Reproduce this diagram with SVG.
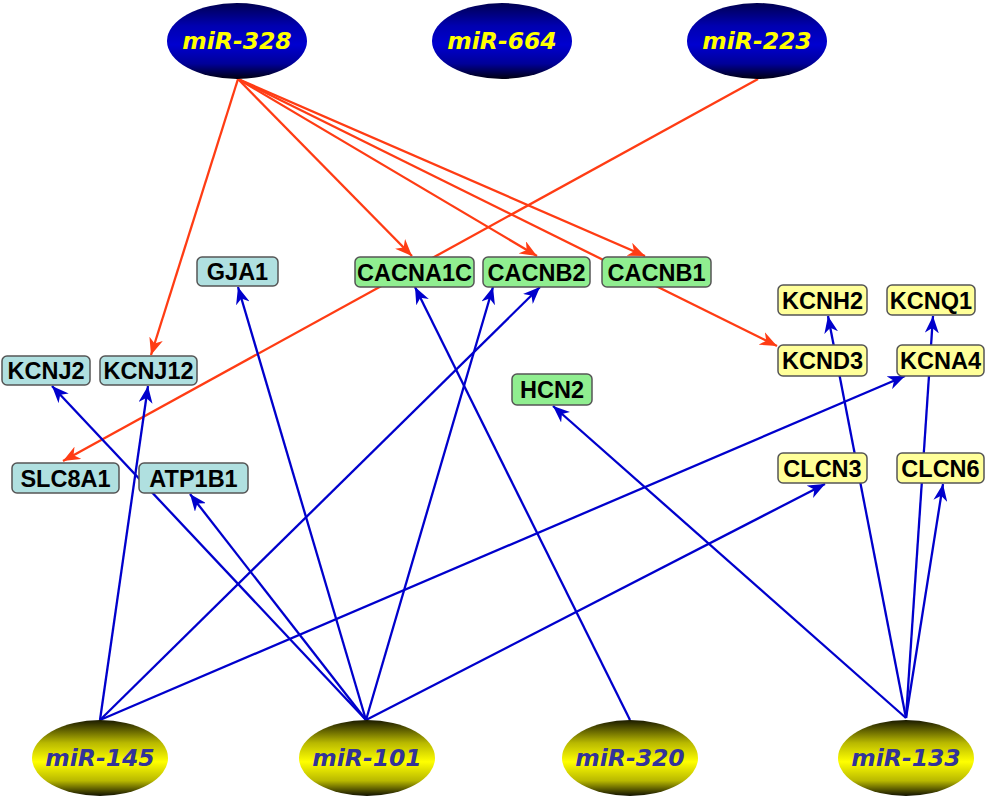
<svg xmlns="http://www.w3.org/2000/svg" width="986" height="798" viewBox="0 0 986 798">
<defs>
<linearGradient id="gBlue" x1="0" y1="0" x2="0" y2="1">
<stop offset="0" stop-color="#000050"/>
<stop offset="0.3" stop-color="#0000b0"/>
<stop offset="0.55" stop-color="#0000d0"/>
<stop offset="0.8" stop-color="#000098"/>
<stop offset="1" stop-color="#000010"/>
</linearGradient>
<linearGradient id="gYel" x1="0" y1="0" x2="0" y2="1">
<stop offset="0" stop-color="#1a1a00"/>
<stop offset="0.3" stop-color="#b8b800"/>
<stop offset="0.55" stop-color="#ffff00"/>
<stop offset="0.8" stop-color="#b8b800"/>
<stop offset="1" stop-color="#101000"/>
</linearGradient>
<marker id="aR" markerUnits="userSpaceOnUse" markerWidth="18" markerHeight="14" refX="17" refY="7" orient="auto">
<path d="M0,0 L17,7 L0,14 L5,7 z" fill="#ff3c14"/>
</marker>
<marker id="aB" markerUnits="userSpaceOnUse" markerWidth="18" markerHeight="14" refX="17" refY="7" orient="auto">
<path d="M0,0 L17,7 L0,14 L5,7 z" fill="#0000cc"/>
</marker>
<style>
.r{stroke:#ff3c14;stroke-width:2.3;fill:none;marker-end:url(#aR)}
.b{stroke:#0000cc;stroke-width:2.3;fill:none;marker-end:url(#aB)}
.box{stroke:#555;stroke-width:1.5}
.bl{fill:#b0e0e0}
.gr{fill:#90ee90}
.ye{fill:#ffff99}
.bt{font-family:"Liberation Sans",Arial,sans-serif;font-weight:bold;font-size:23.5px;fill:#000;text-anchor:middle}
.et{font-family:"DejaVu Sans",Verdana,sans-serif;font-weight:bold;font-style:italic;font-size:23.5px;text-anchor:middle}
.top{fill:url(#gBlue)}
.bot{fill:url(#gYel)}
</style>
</defs>
<g id="connectors">
<line class="r" x1="238" y1="79" x2="151" y2="355"/>
<line class="r" x1="238" y1="79" x2="412" y2="256"/>
<line class="r" x1="238" y1="79" x2="537" y2="256"/>
<line class="r" x1="238" y1="79" x2="645" y2="256"/>
<line class="r" x1="238" y1="79" x2="777" y2="346"/>
<line class="r" x1="758" y1="79" x2="63" y2="461"/>
<line class="b" x1="100" y1="720" x2="148" y2="386"/>
<line class="b" x1="100" y1="720" x2="540" y2="287"/>
<line class="b" x1="100" y1="720" x2="905" y2="376"/>
<line class="b" x1="366" y1="720" x2="52" y2="386"/>
<line class="b" x1="366" y1="720" x2="190" y2="494"/>
<line class="b" x1="366" y1="720" x2="238" y2="287"/>
<line class="b" x1="366" y1="720" x2="493" y2="287"/>
<line class="b" x1="366" y1="720" x2="825" y2="484"/>
<line class="b" x1="630" y1="720" x2="415" y2="287"/>
<line class="b" x1="906" y1="718" x2="553" y2="406"/>
<line class="b" x1="906" y1="718" x2="828" y2="316"/>
<line class="b" x1="906" y1="718" x2="933" y2="316"/>
<line class="b" x1="906" y1="718" x2="943" y2="484"/>
</g>
<g id="GJA1"><rect class="box bl" x="197" y="257" width="81" height="29" rx="5"/><text class="bt" x="237.5" y="280">GJA1</text></g>
<g id="CACNA1C"><rect class="box gr" x="355" y="257" width="119" height="30" rx="5"/><text class="bt" x="414.5" y="280.5">CACNA1C</text></g>
<g id="CACNB2"><rect class="box gr" x="483" y="257" width="107" height="30" rx="5"/><text class="bt" x="536.5" y="280.5">CACNB2</text></g>
<g id="CACNB1"><rect class="box gr" x="602" y="257" width="109" height="30" rx="5"/><text class="bt" x="656.5" y="280.5">CACNB1</text></g>
<g id="KCNJ2"><rect class="box bl" x="2" y="356" width="88" height="29" rx="5"/><text class="bt" x="46" y="379">KCNJ2</text></g>
<g id="KCNJ12"><rect class="box bl" x="100" y="356" width="97" height="29" rx="5"/><text class="bt" x="148.5" y="379">KCNJ12</text></g>
<g id="SLC8A1"><rect class="box bl" x="12" y="463" width="107" height="30" rx="5"/><text class="bt" x="65.5" y="486.5">SLC8A1</text></g>
<g id="ATP1B1"><rect class="box bl" x="139" y="463" width="109" height="30" rx="5"/><text class="bt" x="193.5" y="486.5">ATP1B1</text></g>
<g id="HCN2"><rect class="box gr" x="512" y="374" width="80" height="31" rx="5"/><text class="bt" x="552" y="398">HCN2</text></g>
<g id="KCNH2"><rect class="box ye" x="778" y="285" width="89" height="30" rx="5"/><text class="bt" x="822.5" y="308.5">KCNH2</text></g>
<g id="KCNQ1"><rect class="box ye" x="887" y="285" width="88" height="30" rx="5"/><text class="bt" x="931" y="308.5">KCNQ1</text></g>
<g id="KCND3"><rect class="box ye" x="778" y="345" width="89" height="31" rx="5"/><text class="bt" x="822.5" y="369">KCND3</text></g>
<g id="KCNA4"><rect class="box ye" x="897" y="345" width="87" height="31" rx="5"/><text class="bt" x="940.5" y="369">KCNA4</text></g>
<g id="CLCN3"><rect class="box ye" x="778" y="453" width="89" height="30" rx="5"/><text class="bt" x="822.5" y="476.5">CLCN3</text></g>
<g id="CLCN6"><rect class="box ye" x="897" y="453" width="87" height="30" rx="5"/><text class="bt" x="940.5" y="476.5">CLCN6</text></g>
<g id="miR-328"><ellipse class="top" cx="237" cy="41" rx="70" ry="38"/><text class="et" x="237" y="49" fill="#ffff00">miR-328</text></g>
<g id="miR-664"><ellipse class="top" cx="502" cy="41" rx="70" ry="38"/><text class="et" x="502" y="49" fill="#ffff00">miR-664</text></g>
<g id="miR-223"><ellipse class="top" cx="757" cy="41" rx="70" ry="38"/><text class="et" x="757" y="49" fill="#ffff00">miR-223</text></g>
<g id="miR-145"><ellipse class="bot" cx="100" cy="758" rx="68" ry="38"/><text class="et" x="100" y="766" fill="#333399">miR-145</text></g>
<g id="miR-101"><ellipse class="bot" cx="367" cy="758" rx="68" ry="38"/><text class="et" x="367" y="766" fill="#333399">miR-101</text></g>
<g id="miR-320"><ellipse class="bot" cx="630" cy="758" rx="68" ry="38"/><text class="et" x="630" y="766" fill="#333399">miR-320</text></g>
<g id="miR-133"><ellipse class="bot" cx="906" cy="758" rx="68" ry="38"/><text class="et" x="906" y="766" fill="#333399">miR-133</text></g>
</svg>
